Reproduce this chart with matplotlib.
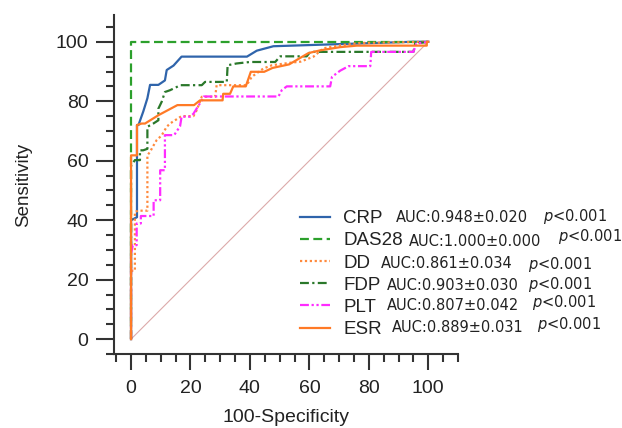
import numpy as np
import matplotlib
matplotlib.use("Agg")
import matplotlib.pyplot as plt
from matplotlib.ticker import MultipleLocator

# ROC curves (100-specificity, sensitivity)
crp_x = [0, 0, 2, 2, 2.5, 4.1, 5.5, 6.4, 9.2, 11.4, 12, 14.3, 17, 39, 42.3, 47.9, 76, 95, 100]
crp_y = [0, 40, 41, 72, 72, 76.5, 81, 85.5, 85.5, 87, 90.5, 92, 95, 95, 97, 98.5, 99.4, 100, 100]

das_x = [0, 0, 100]
das_y = [0, 100, 100]

dd_x = [0, 0, 1.3, 1.3, 2.5, 5.5, 5.5, 6.4, 7.5, 8.6, 10.3, 12, 13.1, 17, 21, 22.1, 23.8,
        28.3, 28.8, 38.9, 40.6, 44.5, 47.4, 54, 57, 61.4, 64.7, 70.4, 77, 100]
dd_y = [0, 23, 23, 42.8, 43.2, 43.2, 61.8, 63, 65, 66.9, 68.5, 71.4, 72.5, 75, 75, 77, 81.5,
        81.5, 85.4, 85.4, 88.2, 91, 92.1, 93, 93.3, 95, 97.8, 98.8, 99.6, 100]

fdp_x = [0, 0, 1.3, 3, 3, 4.1, 5.5, 5.5, 7.5, 9.2, 9.2, 10.3, 11.4, 13.1, 15.4, 16.5, 23.8,
         24.9, 32.2, 32.5, 35.5, 40, 48.5, 50.2, 59.1, 60.3, 95, 95.6, 100]
fdp_y = [0, 58.3, 60.2, 60.2, 63.5, 63.5, 64, 71.4, 72.5, 73.6, 77.5, 79.8, 83.1, 83.7, 84.8,
         85.4, 85.4, 86.5, 86.5, 92.1, 92.7, 93.2, 93.2, 95.1, 95.1, 96.6, 96.6, 99.4, 100]

plt_x = [0, 0, 0.6, 1.9, 1.9, 3.3, 3.3, 7.6, 7.6, 9.8, 9.8, 11.4, 11.4, 14.5, 16.5, 17, 19.9,
         21, 23.8, 24.5, 49.6, 50.7, 52.4, 67, 67.6, 70.4, 73.2, 80.5, 80.8, 95, 96, 100]
plt_y = [0, 28.8, 31.6, 31.6, 38.9, 38.9, 41.4, 41.4, 46.7, 46.7, 56.8, 56.8, 68.6, 68.6, 71.6,
         74.8, 74.8, 75.8, 80.3, 81.6, 81.6, 83.7, 85, 85, 88.2, 90.3, 91.8, 91.8, 96.6, 96.6,
         99.4, 100]

esr_x = [0, 0, 2, 2, 3.6, 4.7, 9.2, 15.6, 21.2, 23.2, 30.8, 31, 33.3, 34.4, 38.6, 40.3, 44.8,
         47.6, 53.2, 59.7, 63.6, 70.4, 76, 99.5, 99.5, 100]
esr_y = [0, 61.8, 61.8, 72, 72.5, 72.5, 75.3, 78.7, 78.7, 80.3, 80.3, 82.5, 82.5, 85, 85, 89.9,
         89.9, 91.2, 92.4, 96.2, 97.1, 98.2, 98.7, 98.7, 100, 100]

names = ["CRP", "DAS28", "DD", "FDP", "PLT", "ESR"]
auc = ["0.948", "1.000", "0.861", "0.903", "0.807", "0.889"]
auc_se = ["0.020", "0.000", "0.034", "0.030", "0.042", "0.031"]
p_text = ["<0.001"] * 6

curves = [(crp_x, crp_y), (das_x, das_y), (dd_x, dd_y),
          (fdp_x, fdp_y), (plt_x, plt_y), (esr_x, esr_y)]
colors = ["#2f64ab", "#2ca02c", "#ff8a3d", "#2a782a", "#ff2cff", "#ff7a26"]
styles = ["-", (0, (4, 2)), (0, (1, 1.2)), (0, (4, 1.5, 1, 1.5)),
          (0, (4, 1.2, 1, 1.2, 1, 1.2)), "-"]

plt.rcParams["font.family"] = ["Liberation Sans", "DejaVu Sans"]

W, H = 622, 428
fig = plt.figure(figsize=(W / 100, H / 100), dpi=100)
ax = fig.add_axes([113.5 / W, 1 - 354 / H, (458 - 113.5) / W, (354 - 15) / H])

ax.plot([0, 100], [0, 100], color="#dcaaaa", lw=0.8, zorder=1)
handles = []
for (x, y), c, ls, nm in zip(curves, colors, styles, names):
    h, = ax.plot(x, y, color=c, ls=ls, lw=1.6, label=nm)
    handles.append(h)

for s in ["top", "right"]:
    ax.spines[s].set_visible(False)
for s in ["left", "bottom"]:
    ax.spines[s].set_linewidth(1.5)
    ax.spines[s].set_color("#333333")

ax.set_xticks(np.arange(0, 101, 20))
ax.set_yticks(np.arange(0, 101, 20))
ax.xaxis.set_minor_locator(MultipleLocator(5))
ax.yaxis.set_minor_locator(MultipleLocator(5))
ax.set_xlim(-5.9, 110)
ax.set_ylim(-5.0, 109)
ax.tick_params(axis="both", which="major", direction="out", width=1.5, color="#333333",
               labelsize=14, labelcolor="#222222")
ax.tick_params(axis="x", which="major", length=11.5, pad=7)
ax.tick_params(axis="y", which="major", length=13, pad=5)
ax.tick_params(axis="both", which="minor", direction="out", length=5.8, width=1.5,
               color="#333333")

ax.set_xlabel("100-Specificity", fontsize=14, color="#222222", labelpad=9)
ax.set_ylabel("Sensitivity", fontsize=13.5, color="#222222", labelpad=17)

leg = ax.legend(handles=handles, loc="upper left", bbox_to_anchor=(300 / W, 1 - 210 / H),
                bbox_transform=fig.transFigure, frameon=False, fontsize=13.5,
                handlelength=1.6, handletextpad=0.7, labelspacing=0.27,
                borderpad=0, borderaxespad=0)
for t in leg.get_texts():
    t.set_color("#222222")

# AUC and p annotations beside legend entries (pixel positions from the figure)
auc_px = [(396, 217), (409, 241), (381, 263), (387, 285), (387, 306), (392, 328)]
p_px = [(543, 217), (558, 237), (528, 265), (528, 285), (532, 302), (537, 325)]
for i in range(len(names)):
    fig.text(auc_px[i][0] / W, 1 - auc_px[i][1] / H, "AUC:%s\u00b1%s" % (auc[i], auc_se[i]),
             family="DejaVu Sans", fontsize=10.5, va="center", ha="left", color="#222222")
    fig.text(p_px[i][0] / W, 1 - p_px[i][1] / H, r"$p$" + p_text[i],
             family="DejaVu Sans", fontsize=10.5, va="center", ha="left", color="#222222")

fig.savefig("out.png", dpi=100)
